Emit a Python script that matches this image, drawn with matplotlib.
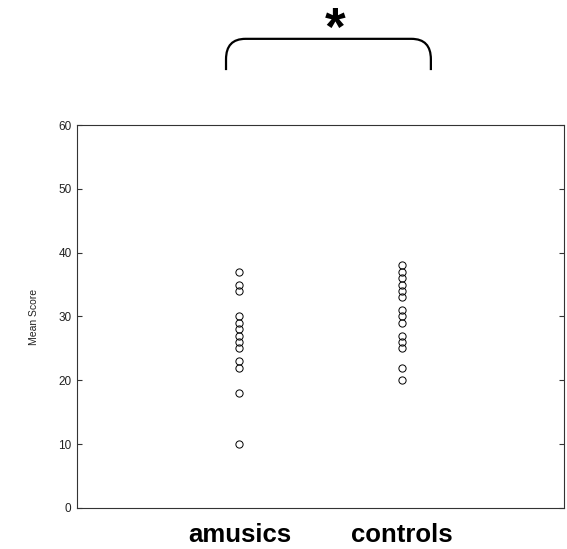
import matplotlib
matplotlib.use("Agg")
import matplotlib.pyplot as plt
from matplotlib.path import Path
from matplotlib.patches import PathPatch

groups = ["amusics", "controls"]
amusics = [37, 35, 34, 30, 29, 28, 27, 26, 25, 23, 22, 18, 10]
controls = [38, 37, 36, 35, 34, 33, 31, 30, 29, 27, 26, 25, 22, 20]
yticks = [0, 10, 20, 30, 40, 50, 60]

plt.rcParams['font.family'] = ['Liberation Sans', 'DejaVu Sans']

fig = plt.figure(figsize=(5.67, 5.49), dpi=100)
ax = fig.add_axes([0.1358, 0.0747, 0.8589, 0.6976])

for i, vals in enumerate([amusics, controls]):
    ax.plot([i + 1] * len(vals), vals, linestyle='none', marker='o',
            markersize=5.2, markerfacecolor='none', markeredgecolor='black',
            markeredgewidth=0.7)

ax.set_xlim(0, 3)
ax.set_ylim(0, 60)
ax.set_yticks(yticks)
ax.set_yticklabels([str(t) for t in yticks], fontsize=8.5, color='#222222')
ax.set_xticks([1, 2])
ax.set_xticklabels(groups, fontsize=18.5, fontweight='bold')
ax.tick_params(axis='x', length=0, pad=11)
ax.tick_params(axis='y', direction='in', length=3.5, width=0.8, right=True,
               left=True, pad=4, color='#333333')
ax.set_ylabel("Mean Score", fontsize=7.5, labelpad=14, color='#222222')
for s in ax.spines.values():
    s.set_linewidth(0.8)
    s.set_color('#333333')

# significance bracket
x0, x1 = 0.918, 2.18
ytop, ybot = 73.5, 68.6
rx, ry = 0.12, 3.2
verts = [(x0, ybot), (x0, ytop - ry), (x0, ytop), (x0 + rx, ytop),
         (x1 - rx, ytop), (x1, ytop), (x1, ytop - ry), (x1, ybot)]
codes = [Path.MOVETO, Path.LINETO, Path.CURVE3, Path.CURVE3,
         Path.LINETO, Path.CURVE3, Path.CURVE3, Path.LINETO]
patch = PathPatch(Path(verts, codes), facecolor='none', edgecolor='black',
                  linewidth=1.6, clip_on=False)
ax.add_patch(patch)
ax.text(1.589, 72.5, "*", fontsize=38, fontweight='bold', ha='center',
        va='baseline', clip_on=False)

fig.savefig("out.png", dpi=100)
